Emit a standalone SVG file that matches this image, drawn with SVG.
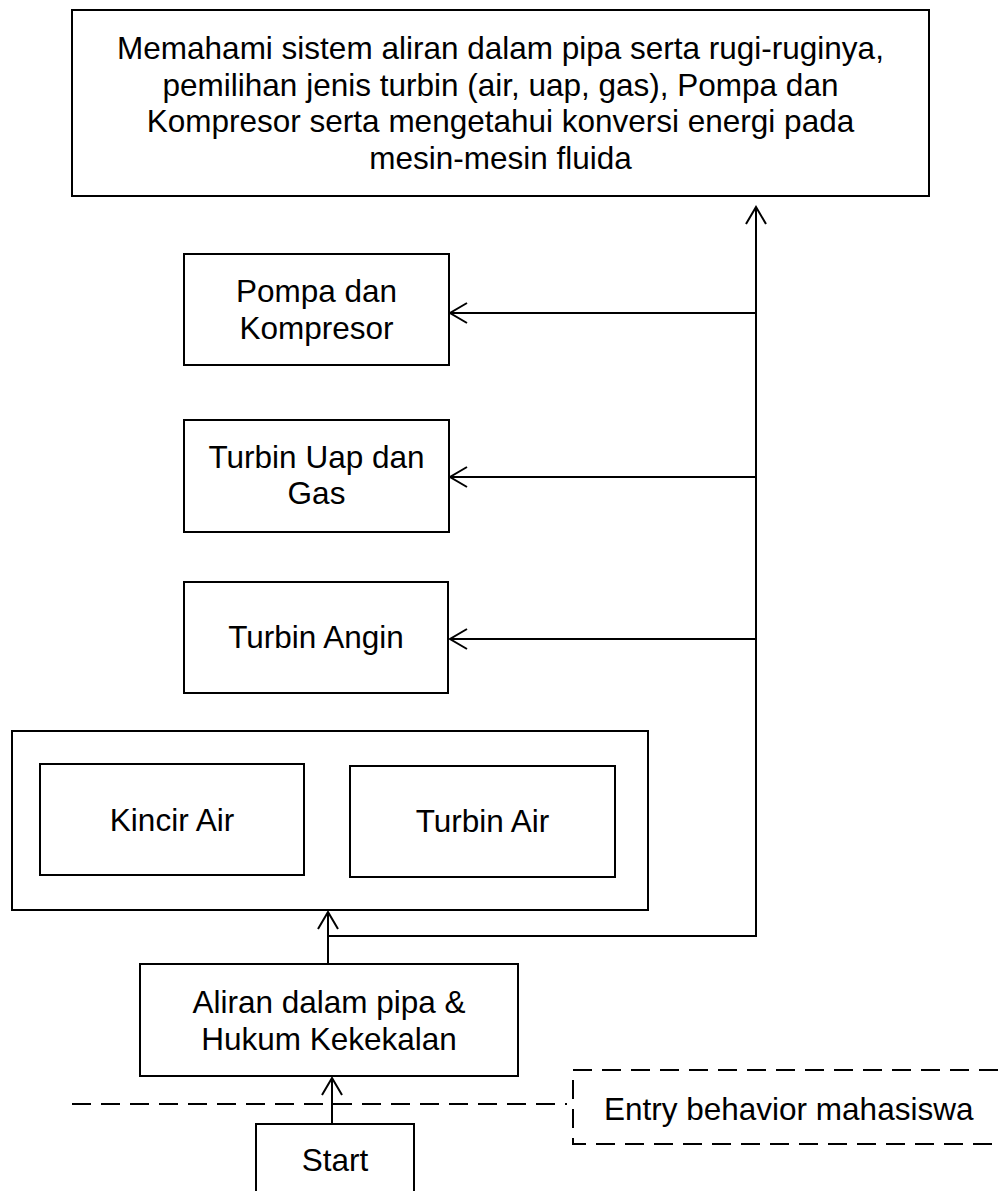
<svg xmlns="http://www.w3.org/2000/svg" width="998" height="1191" viewBox="0 0 998 1191">
<style>
.box{fill:#fff;stroke:#000;stroke-width:2}
.t{font-family:"Liberation Sans",Arial,sans-serif;font-size:31.5px;fill:#000;text-anchor:middle}
.c{fill:none;stroke:#000;stroke-width:2}
.d{fill:none;stroke:#000;stroke-width:2;stroke-dasharray:19 10}
</style>
<defs>
<marker id="arr" markerUnits="userSpaceOnUse" markerWidth="22" markerHeight="24" viewBox="-20 -12 22 24" refX="0" refY="0" orient="auto">
<path d="M -17 -10 L 0 0 L -17 10" fill="none" stroke="#000" stroke-width="2"/>
</marker>
</defs>
<rect width="998" height="1191" fill="#fff"/>
<g id="connectors">
<path class="c" d="M 328 936 H 756 V 207" marker-end="url(#arr)"/>
<path class="c" d="M 756 313 H 450" marker-end="url(#arr)"/>
<path class="c" d="M 756 477 H 450" marker-end="url(#arr)"/>
<path class="c" d="M 756 639 H 450" marker-end="url(#arr)"/>
<path class="c" d="M 328 964 V 912" marker-end="url(#arr)"/>
<path class="c" d="M 332 1124 V 1078" marker-end="url(#arr)"/>
<path class="d" d="M 72 1104 H 567"/>
</g>
<g id="goal">
<rect class="box" x="72" y="10" width="857" height="186"/>
<text class="t" x="500.5" y="59">Memahami sistem aliran dalam pipa serta rugi-ruginya,</text>
<text class="t" x="500.5" y="95.5">pemilihan jenis turbin (air, uap, gas), Pompa dan</text>
<text class="t" x="500.5" y="132">Kompresor serta mengetahui konversi energi pada</text>
<text class="t" x="500.5" y="168.5">mesin-mesin fluida</text>
</g>
<g id="pompa">
<rect class="box" x="184" y="254" width="265" height="111"/>
<text class="t" x="316.5" y="302">Pompa dan</text>
<text class="t" x="316.5" y="339">Kompresor</text>
</g>
<g id="turbin-uap">
<rect class="box" x="184" y="420" width="265" height="112"/>
<text class="t" x="316.5" y="468">Turbin Uap dan</text>
<text class="t" x="316.5" y="504">Gas</text>
</g>
<g id="turbin-angin">
<rect class="box" x="184" y="582" width="264" height="111"/>
<text class="t" x="316" y="648">Turbin Angin</text>
</g>
<g id="air-group">
<rect class="box" x="12" y="731" width="636" height="179"/>
</g>
<g id="kincir-air">
<rect class="box" x="40" y="764" width="264" height="111"/>
<text class="t" x="172" y="831">Kincir Air</text>
</g>
<g id="turbin-air">
<rect class="box" x="350" y="766" width="265" height="111"/>
<text class="t" x="482.5" y="832">Turbin Air</text>
</g>
<g id="aliran">
<rect class="box" x="140" y="964" width="378" height="112"/>
<text class="t" x="329" y="1013">Aliran dalam pipa &amp;</text>
<text class="t" x="329" y="1050">Hukum Kekekalan</text>
</g>
<g id="start">
<rect class="box" x="256" y="1124" width="158" height="80"/>
<text class="t" x="335" y="1171">Start</text>
</g>
<g id="entry-behavior">
<path class="d" d="M 998 1070 H 573 V 1144 H 998"/>
<text class="t" x="604" y="1120" style="text-anchor:start">Entry behavior mahasiswa</text>
</g>
</svg>
